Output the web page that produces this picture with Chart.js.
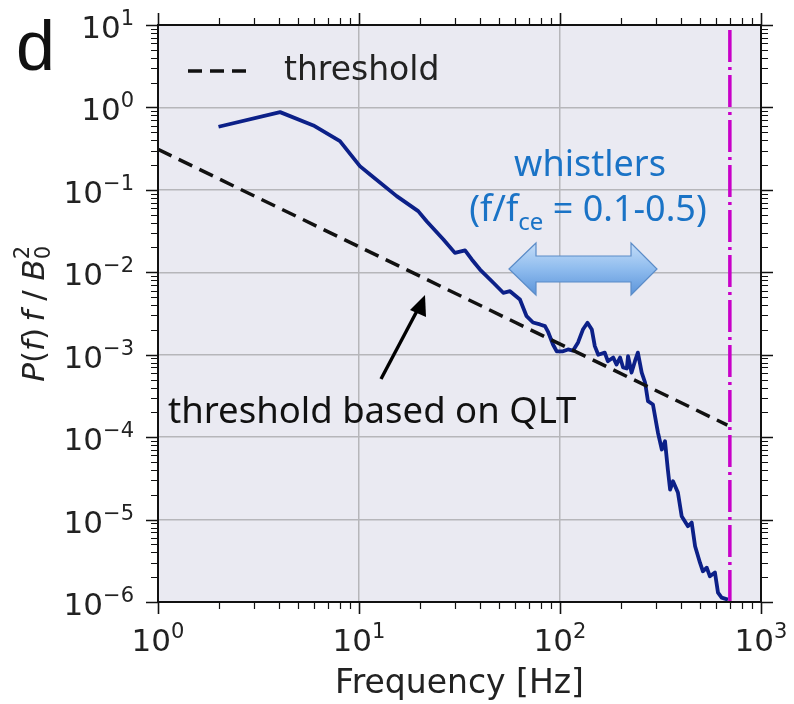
<!DOCTYPE html>
<html>
<head>
<meta charset="utf-8">
<script src="https://cdn.jsdelivr.net/npm/chart.js@4.4.1/dist/chart.umd.min.js"></script>
<style>
body{margin:0;background:#fff;}
canvas{display:block;}
</style>
</head>
<body>
<canvas id="spectrumChart" width="794" height="704"></canvas>
<script>
// spectrum P(f) f / B0^2
const freq=[2.0,4.05,5.93,8.04,10.1,11.35,15.4,19.7,21.7,26.3,30.0,33.7,36.4,40.0,46.6,52.2,56.4,63.2,68.2,73.4,79.5,84.2,87.1,92.3,96.3,103.5,109.6,116,123,130,137,144,149,155,167,173,184,191,199,206,215,218,227,236,244,255,265,274,290,303,307,321,333,344,353,365,386,403,433,452,470,497,514,537,557,590,611,637,685];
const power=[0.583,0.877,0.605,0.390,0.194,0.154,0.084,0.0552,0.0417,0.0250,0.0172,0.0184,0.0143,0.0108,0.00746,0.00564,0.00590,0.00468,0.00293,0.00246,0.00233,0.00222,0.00191,0.00133,0.00110,0.00110,0.00116,0.00112,0.00141,0.00202,0.00244,0.00202,0.00127,0.00100,0.00106,0.000834,0.000925,0.000760,0.000925,0.000699,0.000680,0.000959,0.000608,0.000834,0.00106,0.000608,0.000460,0.000273,0.000249,0.000136,0.000114,7.08e-5,8.9e-5,4.04e-5,2.31e-5,2.92e-5,2.13e-5,1.10e-5,8.3e-6,9.2e-6,4.74e-6,3.0e-6,2.36e-6,2.61e-6,2.05e-6,2.28e-6,1.30e-6,1.13e-6,1.07e-6];

// QLT threshold (straight line in log-log)
const thresholdFreq=[1,680];
const thresholdPower=[0.31,1.4e-4];

// electron cyclotron frequency
const fce=700;

const xTicks=[1,10,100,1000];
const xTickExp=["0","1","2","3"];
const yTicks=[1e-6,1e-5,1e-4,1e-3,1e-2,1e-1,1,10];
const yTickExp=["\u22126","\u22125","\u22124","\u22123","\u22122","\u22121","0","1"];

const axisFont="DejaVu Sans";
const noteFont="Noto Sans";

function toPoints(xs,ys){
    return xs.map((x,i)=>({x:x,y:ys[i]}));
}

function minorValues(min,max){
    let out=[];
    for(let e=Math.floor(Math.log10(min));e<Math.log10(max);e++){
        for(let k=2;k<10;k++){
            let v=k*Math.pow(10,e);
            if(v>min&&v<max) out.push(v);
        }
    }
    return out;
}

// runs: [{t, size, italic, dy}] drawn left to right from x
function runsWidth(ctx,runs,family){
    let w=0;
    runs.forEach(r=>{
        ctx.font=(r.italic?"oblique ":"")+r.size+"px '"+family+"'";
        w+=ctx.measureText(r.t).width;
    });
    return w;
}

function drawRuns(ctx,runs,family,x,y){
    runs.forEach(r=>{
        ctx.font=(r.italic?"oblique ":"")+r.size+"px '"+family+"'";
        ctx.fillText(r.t,x,y+(r.dy||0));
        x+=ctx.measureText(r.t).width;
    });
}

function powerLabel(exp){
    return [{t:"10",size:31},{t:exp,size:21,dy:-13}];
}

const framePlugin={
    id:"frame",
    beforeDraw(chart){
        const ctx=chart.ctx;
        const a=chart.chartArea;
        ctx.save();
        ctx.fillStyle="#fff";
        ctx.fillRect(0,0,chart.width,chart.height);
        ctx.fillStyle="#eaeaf2";
        ctx.fillRect(a.left,a.top,a.right-a.left,a.bottom-a.top);
        ctx.restore();
    },
    afterDraw(chart){
        const ctx=chart.ctx;
        const a=chart.chartArea;
        const xs=chart.scales.x;
        const ys=chart.scales.y;
        ctx.save();

        // ticks on all four sides, pointing out
        ctx.strokeStyle="#111";
        ctx.lineWidth=1.6;
        ctx.beginPath();
        xTicks.forEach(v=>{
            let p=Math.round(xs.getPixelForValue(v))+0.5;
            ctx.moveTo(p,a.bottom);ctx.lineTo(p,a.bottom+12);
            ctx.moveTo(p,a.top);ctx.lineTo(p,a.top-12);
        });
        yTicks.forEach(v=>{
            let p=Math.round(ys.getPixelForValue(v))+0.5;
            ctx.moveTo(a.left,p);ctx.lineTo(a.left-12,p);
            ctx.moveTo(a.right,p);ctx.lineTo(a.right+12,p);
        });
        ctx.stroke();
        ctx.lineWidth=1.2;
        ctx.beginPath();
        minorValues(1,1000).forEach(v=>{
            let p=Math.round(xs.getPixelForValue(v))+0.5;
            ctx.moveTo(p,a.bottom);ctx.lineTo(p,a.bottom+7);
            ctx.moveTo(p,a.top);ctx.lineTo(p,a.top-7);
        });
        minorValues(1e-6,10).forEach(v=>{
            let p=Math.round(ys.getPixelForValue(v))+0.5;
            ctx.moveTo(a.left,p);ctx.lineTo(a.left-7,p);
            ctx.moveTo(a.right,p);ctx.lineTo(a.right+7,p);
        });
        ctx.stroke();

        ctx.lineWidth=2;
        ctx.strokeRect(a.left,a.top,a.right-a.left,a.bottom-a.top);

        // tick labels 10^n
        ctx.fillStyle="#222";
        ctx.textBaseline="alphabetic";
        ctx.textAlign="left";
        xTicks.forEach((v,i)=>{
            let runs=powerLabel(xTickExp[i]);
            let w=runsWidth(ctx,runs,axisFont);
            drawRuns(ctx,runs,axisFont,xs.getPixelForValue(v)-w/2,a.bottom+49);
        });
        yTicks.forEach((v,i)=>{
            let runs=powerLabel(yTickExp[i]);
            let w=runsWidth(ctx,runs,axisFont);
            drawRuns(ctx,runs,axisFont,a.left-24-w,ys.getPixelForValue(v)+13);
        });

        // axis titles
        ctx.font="33px '"+axisFont+"'";
        ctx.textAlign="center";
        ctx.fillText("Frequency [Hz]",(a.left+a.right)/2,a.bottom+91);

        ctx.textAlign="left";
        let yTitle=[
            {t:"P",size:31,italic:true},{t:"(",size:31},{t:"f",size:31,italic:true},{t:")",size:31},
            {t:" ",size:20},{t:"f",size:31,italic:true},{t:" / ",size:31},{t:"B",size:31,italic:true}
        ];
        let tw=runsWidth(ctx,yTitle,axisFont)+14;
        ctx.translate(44,(a.top+a.bottom)/2);
        ctx.rotate(-Math.PI/2);
        drawRuns(ctx,yTitle,axisFont,-tw/2,0);
        ctx.font="21px '"+axisFont+"'";
        ctx.fillText("0",tw/2-14,6);
        ctx.fillText("2",tw/2-14,-15);
        ctx.setTransform(1,0,0,1,0,0);

        // legend
        ctx.strokeStyle="#111";
        ctx.lineWidth=3.5;
        ctx.setLineDash([14,8]);
        ctx.beginPath();
        ctx.moveTo(188,71);ctx.lineTo(250,71);
        ctx.stroke();
        ctx.setLineDash([]);
        ctx.fillStyle="#222";
        ctx.font="33px '"+axisFont+"'";
        ctx.textBaseline="middle";
        ctx.fillText("threshold",284,71);

        // panel letter
        ctx.textBaseline="alphabetic";
        ctx.fillStyle="#111";
        ctx.font="70px 'Liberation Sans'";
        ctx.fillText("d",16,70);

        // QLT note with arrow
        ctx.font="36.5px '"+noteFont+"'";
        ctx.fillText("threshold based on QLT",168,423);
        ctx.strokeStyle="#000";
        ctx.lineWidth=3.4;
        ctx.beginPath();
        ctx.moveTo(381,379);ctx.lineTo(418,309);
        ctx.stroke();
        ctx.beginPath();
        ctx.moveTo(425,295);ctx.lineTo(410,310);ctx.lineTo(426,317);
        ctx.closePath();
        ctx.fillStyle="#000";
        ctx.fill();

        // whistler band
        ctx.fillStyle="#1a73c6";
        ctx.textAlign="center";
        ctx.font="36px '"+noteFont+"'";
        ctx.fillText("whistlers",590,176);
        let band=[
            {t:"(f/f",size:36},{t:"ce",size:24,dy:9},{t:" = 0.1-0.5)",size:36}
        ];
        ctx.textAlign="left";
        let bw=runsWidth(ctx,band,noteFont);
        drawRuns(ctx,band,noteFont,588-bw/2,221);

        let g=ctx.createLinearGradient(0,243,0,295);
        g.addColorStop(0,"#c4ddf8");
        g.addColorStop(0.5,"#8fbcee");
        g.addColorStop(1,"#5c95da");
        ctx.beginPath();
        ctx.moveTo(509,269);ctx.lineTo(536,243);ctx.lineTo(536,256);ctx.lineTo(631,256);
        ctx.lineTo(631,243);ctx.lineTo(657,269);ctx.lineTo(631,295);ctx.lineTo(631,282);
        ctx.lineTo(536,282);ctx.lineTo(536,295);
        ctx.closePath();
        ctx.fillStyle=g;
        ctx.fill();
        ctx.strokeStyle="#5b8cc8";
        ctx.lineWidth=1.2;
        ctx.stroke();

        ctx.restore();
    }
};

let spectrumChart=new Chart(document.getElementById("spectrumChart").getContext("2d"),{
    type:"line",
    data:{
        datasets:[
            {
                label:"threshold",
                data:toPoints(thresholdFreq,thresholdPower),
                borderColor:"#111",
                borderWidth:3.5,
                borderDash:[15,8]
            },
            {
                label:"fce",
                data:[{x:fce,y:1e-6},{x:fce,y:10}],
                borderColor:"#c800c8",
                borderWidth:3.5,
                borderDash:[32,5,3,5]
            },
            {
                label:"spectrum",
                data:toPoints(freq,power),
                borderColor:"#0c2088",
                borderWidth:3.8
            }
        ]
    },
    options:{
        responsive:false,
        animation:false,
        devicePixelRatio:1,
        layout:{padding:{left:158,right:33,top:25,bottom:102}},
        elements:{point:{radius:0},line:{tension:0,borderJoinStyle:"round"}},
        plugins:{legend:{display:false},tooltip:{enabled:false}},
        scales:{
            x:{
                type:"logarithmic",
                min:1,
                max:1000,
                afterBuildTicks:s=>{s.ticks=xTicks.map(v=>({value:v}));},
                afterFit:s=>{s.height=0;},
                ticks:{display:false},
                border:{display:false},
                grid:{color:"#b6b6ba",lineWidth:1.5,drawTicks:false}
            },
            y:{
                type:"logarithmic",
                min:1e-6,
                max:10,
                afterBuildTicks:s=>{s.ticks=yTicks.map(v=>({value:v}));},
                afterFit:s=>{s.width=0;},
                ticks:{display:false},
                border:{display:false},
                grid:{color:"#b6b6ba",lineWidth:1.5,drawTicks:false}
            }
        }
    },
    plugins:[framePlugin]
});
</script>
</body>
</html>
